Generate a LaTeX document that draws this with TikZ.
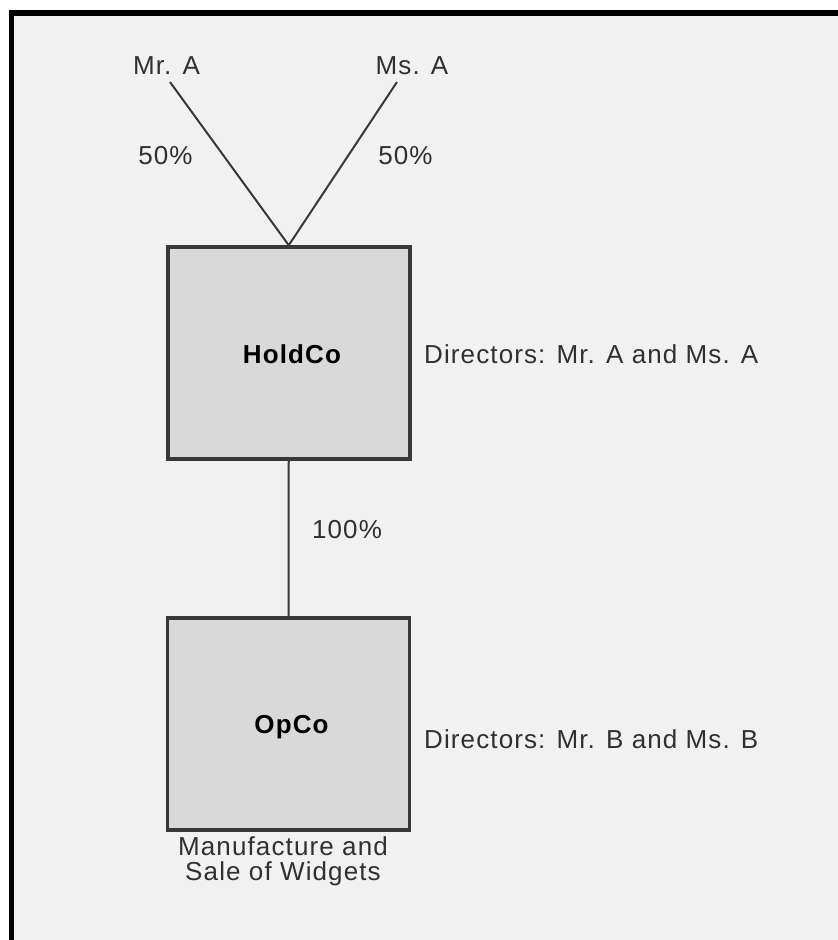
\documentclass[tikz,border=0pt]{standalone}
\usepackage{fontspec}
\setmainfont{Liberation Sans}
\newfontfamily\lsfont[LetterSpace=4.3]{Liberation Sans}
\definecolor{bgc}{HTML}{F1F1F1}
\definecolor{boxfill}{HTML}{D9D9D9}
\definecolor{edge}{HTML}{383838}
\definecolor{txt}{HTML}{303030}
\tikzset{
  lbl/.style={inner sep=0pt, text=txt, font=\lsfont\fontsize{26}{30}\selectfont, anchor=base},
  dirlbl/.style={lbl, anchor=base west},
  boxlbl/.style={inner sep=0pt, text=black, font=\lsfont\bfseries\fontsize{26}{30}\selectfont, anchor=base},
  entity/.style={draw=edge, line width=3.5pt, fill=boxfill, minimum width=242pt, minimum height=212pt, inner sep=0pt},
  link/.style={draw=edge, line width=2pt}
}
\begin{document}
\begin{tikzpicture}[x=1pt,y=-1pt]
\useasboundingbox (0,0) rectangle (838,940);
\fill[white] (0,0) rectangle (838,940);
\fill[bgc] (11.5,13) rectangle (838,940);
\draw[line width=5.5pt, line join=miter] (11.5,940) -- (11.5,13) -- (838,13);

\node[entity] (hold) at (288.75,353) {};
\node[entity] (opco) at (288.5,724) {};
\node[boxlbl] (holdlbl) at (292,363) {HoldCo};
\node[boxlbl] (opcolbl) at (291.5,733) {OpCo};

\node[lbl] (mra) at (166.5,74) {Mr. A};
\node[lbl] (msa) at (412,74) {Ms. A};
\coordinate (mraend) at (170,82);
\coordinate (msaend) at (397,82);
\draw[link] (mraend) -- (hold.north);
\draw[link] (msaend) -- (hold.north);
\node[lbl] (pa) at (165.5,164) {50\%};
\node[lbl] (pb) at (405.5,164) {50\%};

\draw[link] (hold.south) -- (opco.north);
\node[lbl] (pc) at (347,538) {100\%};

\node[dirlbl] (dira) at (424,363) {Directors: Mr. A and Ms. A};
\node[dirlbl] (dirb) at (424,748) {Directors: Mr. B and Ms. B};

\node[lbl] (mfg1) at (283,855) {Manufacture and};
\node[lbl] (mfg2) at (283,880) {Sale of Widgets};
\end{tikzpicture}
\end{document}
